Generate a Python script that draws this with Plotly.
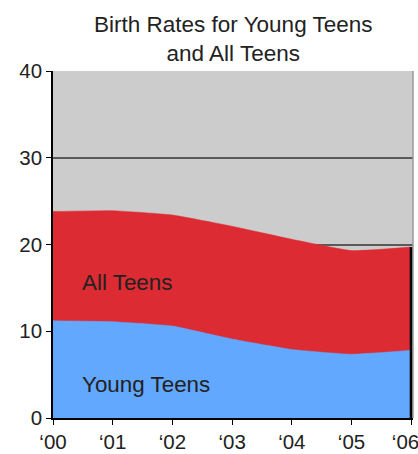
import plotly.graph_objects as go

years = ["\u201800", "\u201801", "\u201802", "\u201803", "\u201804", "\u201805", "\u201806\u00a0\u00a0"]
all_teens = [23.8, 23.9, 23.4, 22.1, 20.6, 19.3, 19.7]
young_teens = [11.2, 11.1, 10.6, 9.1, 7.9, 7.35, 7.8]
y_ticks = [0, 10, 20, 30, 40]

xs = list(range(len(years)))
RED = "#DC2B33"
BLUE = "#62A8FF"
FONT = "Liberation Sans, Arial, sans-serif"

fig = go.Figure()
fig.add_trace(go.Scatter(x=xs, y=all_teens, fill="tozeroy", mode="lines",
                         line=dict(color=RED, width=0.5, shape="spline", smoothing=0.4),
                         fillcolor=RED, hoverinfo="skip", showlegend=False, cliponaxis=False))
fig.add_trace(go.Scatter(x=xs, y=young_teens, fill="tozeroy", mode="lines",
                         line=dict(color=BLUE, width=0.5, shape="spline", smoothing=0.4),
                         fillcolor=BLUE, hoverinfo="skip", showlegend=False, cliponaxis=False))
# dark right edge of the filled area
fig.add_trace(go.Scatter(x=[xs[-1], xs[-1]], y=[0, all_teens[-1]], mode="lines",
                         line=dict(color="black", width=3), hoverinfo="skip", showlegend=False,
                         cliponaxis=False))

fig.add_annotation(x=0.45, y=15.65, xanchor="left", text="All Teens", showarrow=False,
                   font=dict(family=FONT, size=22.4, color="#222"))
fig.add_annotation(x=0.45, y=3.9, xanchor="left", text="Young Teens", showarrow=False,
                   font=dict(family=FONT, size=22.4, color="#222"))

# title
fig.add_annotation(xref="paper", yref="paper", x=0.5, y=1, xanchor="center", yanchor="bottom",
                   yshift=3, showarrow=False, text="Birth Rates for Young Teens<br>and All Teens",
                   font=dict(family=FONT, size=22.5, color="#222"))

# light right border of plot area
fig.add_shape(type="line", xref="paper", yref="paper", x0=1, x1=1, y0=0, y1=1,
              line=dict(color="#9a9a9a", width=1.5))

fig.update_layout(
    width=418, height=454,
    margin=dict(l=53, r=5, t=70.5, b=36),
    paper_bgcolor="white", plot_bgcolor="#cccccc",
    font=dict(family=FONT, size=20.5, color="#222"),
)
fig.update_xaxes(range=[0, 6.03], tickmode="array", tickvals=xs, ticktext=years,
                 showgrid=False, zeroline=False, showline=True, linecolor="black", linewidth=1.5,
                 ticks="outside", ticklen=5, tickcolor="black", tickfont=dict(size=20.5),
                 automargin=False, ticklabeloverflow="allow")
fig.update_yaxes(range=[0, 40], tickmode="array", tickvals=y_ticks,
                 showgrid=True, gridcolor="#5a5a5a", gridwidth=1.5, zeroline=False,
                 showline=True, linecolor="black", linewidth=1.5,
                 ticks="outside", ticklen=5, tickcolor="black", tickfont=dict(size=20.5),
                 automargin=False)

fig.write_html(
    "out.html",
    config={"displayModeBar": False},
    post_script=(
        "document.body.style.margin='0';"
        "document.body.style.overflow='hidden';"
        "document.documentElement.style.overflow='hidden';"
    ),
)
